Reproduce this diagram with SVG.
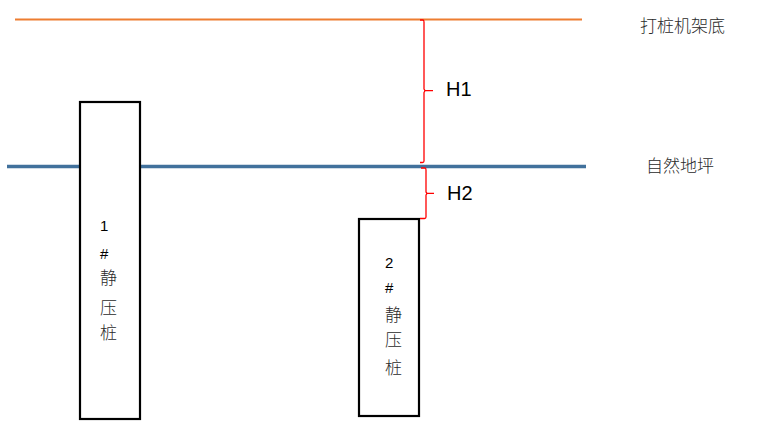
<svg xmlns="http://www.w3.org/2000/svg" width="769" height="428" viewBox="0 0 769 428">
<style>
.pile{fill:#fff;stroke:#000;stroke-width:2.2}
.brace{fill:none;stroke:#ff0000;stroke-width:1.3;stroke-linejoin:round}
.lbl{font-family:"Liberation Sans","Noto Sans CJK SC",sans-serif;fill:#000}
.cjk{font-family:"Noto Sans CJK SC",sans-serif;fill:#2a2a2a;font-weight:300}
</style>
<rect width="769" height="428" fill="#fff"/>
<g id="frame-bottom">
<line x1="15" y1="19.5" x2="582" y2="19.5" stroke="#ed7d31" stroke-width="2"/>
<text class="cjk" x="640" y="32" font-size="17">打桩机架底</text>
</g>
<g id="ground">
<line x1="7" y1="166.5" x2="586" y2="166.5" stroke="#41719c" stroke-width="3.5"/>
<text class="cjk" x="646" y="172" font-size="17">自然地坪</text>
</g>
<g id="pile1">
<rect class="pile" x="80" y="102" width="60" height="317"/>
<text class="lbl" x="100" y="231" font-size="15">1</text>
<text class="lbl" x="100" y="259" font-size="15">#</text>
<text class="cjk" x="100" y="284" font-size="17">静</text>
<text class="cjk" x="100" y="314" font-size="17">压</text>
<text class="cjk" x="100" y="339" font-size="17">桩</text>
</g>
<g id="pile2">
<rect class="pile" x="359" y="219" width="60" height="197"/>
<text class="lbl" x="385" y="268" font-size="15">2</text>
<text class="lbl" x="385" y="293" font-size="15">#</text>
<text class="cjk" x="385" y="321" font-size="17">静</text>
<text class="cjk" x="385" y="346" font-size="17">压</text>
<text class="cjk" x="385" y="374" font-size="17">桩</text>
</g>
<g id="connectors">
<path class="brace" d="M420,20 L423,20 Q424,20 424,22 L424,89 L425,90.7 L433,90.7 M425,90.7 L424,92.5 L424,161 Q424,162.5 422.5,162.5 L420,162.5"/>
<path class="brace" d="M421,168 L425,168 Q426,168 426,170 L426,192 L427,193.3 L434,193.3 M427,193.3 L426,195 L426,217 Q426,218.5 424.5,218.5 L420,218.5"/>
</g>
<g id="labels">
<text class="lbl" x="446" y="96" font-size="20">H1</text>
<text class="lbl" x="447" y="200" font-size="20">H2</text>
</g>
</svg>
